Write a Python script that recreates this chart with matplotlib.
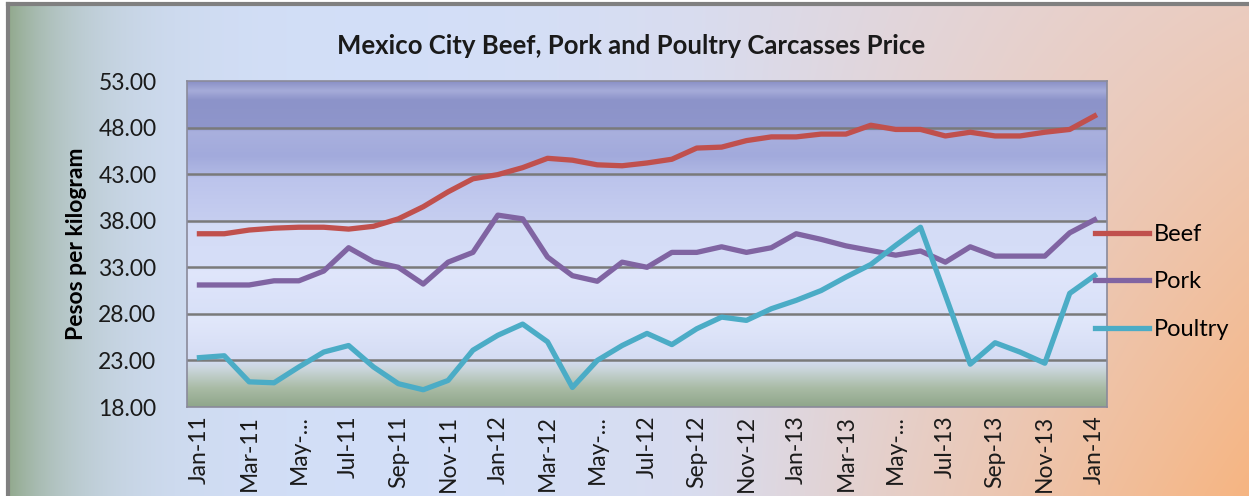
import numpy as np
import matplotlib
matplotlib.use("Agg")
import matplotlib.pyplot as plt
from matplotlib.colors import to_rgb

plt.rcParams['font.family'] = ['Lato', 'DejaVu Sans']

# Monthly prices, Jan-11 .. Jan-14 (pesos per kg)
months = ["Jan-11", "Feb-11", "Mar-11", "Apr-11", "May-11", "Jun-11", "Jul-11", "Aug-11",
          "Sep-11", "Oct-11", "Nov-11", "Dec-11", "Jan-12", "Feb-12", "Mar-12", "Apr-12",
          "May-12", "Jun-12", "Jul-12", "Aug-12", "Sep-12", "Oct-12", "Nov-12", "Dec-12",
          "Jan-13", "Feb-13", "Mar-13", "Apr-13", "May-13", "Jun-13", "Jul-13", "Aug-13",
          "Sep-13", "Oct-13", "Nov-13", "Dec-13", "Jan-14"]
beef = [36.6, 36.6, 37.0, 37.2, 37.3, 37.3, 37.1, 37.4, 38.2, 39.5, 41.1, 42.5, 42.95,
        43.7, 44.7, 44.5, 44.0, 43.9, 44.2, 44.6, 45.8, 45.9, 46.6, 47.0, 47.0, 47.3,
        47.3, 48.25, 47.8, 47.8, 47.1, 47.5, 47.1, 47.1, 47.5, 47.8, 49.25]
pork = [31.1, 31.1, 31.1, 31.55, 31.55, 32.6, 35.1, 33.6, 33.0, 31.2, 33.55, 34.6, 38.6,
        38.2, 34.1, 32.1, 31.5, 33.55, 33.0, 34.6, 34.6, 35.2, 34.6, 35.1, 36.6, 36.0,
        35.3, 34.8, 34.3, 34.75, 33.55, 35.2, 34.2, 34.2, 34.2, 36.7, 38.1]
poultry = [23.3, 23.5, 20.7, 20.6, 22.3, 23.9, 24.6, 22.3, 20.5, 19.85, 20.85, 24.1, 25.7,
           26.9, 25.0, 20.1, 23.0, 24.6, 25.9, 24.7, 26.4, 27.65, 27.3, 28.55, 29.45, 30.5,
           31.95, 33.3, 35.35, 37.3, 30.0, 22.6, 24.9, 23.9, 22.7, 30.2, 32.1]

y_ticks = [18, 23, 28, 33, 38, 43, 48, 53]

W, H = 1249, 496
fig = plt.figure(figsize=(W / 100, H / 100), dpi=100)

# Chart background (soft gradient, green edge at left, orange at bottom right)
bg = fig.add_axes([8 / W, 0, 1 - 8 / W, (H - 4) / H])
gx = np.linspace(0, 1, 300)
gy = np.linspace(0, 1, 120)
u, v = np.meshgrid(gx, gy)
blue = np.array(to_rgb("#d3dff8"))
pink = np.array(to_rgb("#e6d6da"))
orange = np.array(to_rgb("#f6b582"))
green = np.array(to_rgb("#93aa8f"))
t = np.clip((u - 0.3) / 0.7, 0, 1)
t = t * t * (3 - 2 * t)
img = blue * (1 - t[..., None]) + pink * t[..., None]
wo = np.clip((u - 0.55) / 0.45, 0, 1) ** 1.2 * (0.3 + 0.7 * v)
img = img * (1 - wo[..., None]) + orange * wo[..., None]
wg = np.exp(-(u * (W - 8)) / 70.0)
img = img * (1 - wg[..., None]) + green * wg[..., None]
bg.imshow(img, aspect="auto", extent=[0, 1, 0, 1], origin="upper", interpolation="bilinear")
bg.set_xlim(0, 1)
bg.set_ylim(0, 1)
bg.set_xticks([])
bg.set_yticks([])
for s in ["right", "bottom"]:
    bg.spines[s].set_visible(False)
for s in ["left", "top"]:
    bg.spines[s].set_color("#808080")
    bg.spines[s].set_linewidth(3)

# Plot area
ax = fig.add_axes([187 / W, 1 - 407 / H, 920 / W, 326 / H])
x = np.arange(len(months))

stops = [(18, "#8fa68a"), (20, "#a9bba5"), (22, "#c9d5da"), (23, "#d4dcf4"),
         (27.6, "#e2e8fb"), (28, "#d8e0f8"), (32.6, "#e0e6fb"), (33, "#d6def8"),
         (37.6, "#d4dcf6"), (38, "#c6cef0"), (42.6, "#bcc4ec"), (43, "#b0b8e4"),
         (45, "#a2aadc"), (47.6, "#a9b0de"), (48, "#8f96cb"), (51, "#8c93c9"),
         (52, "#a6acd9"), (53, "#8a90c6")]
yy = np.linspace(18, 53, 400)
col = np.stack([np.interp(yy, [s[0] for s in stops], [to_rgb(s[1])[k] for s in stops])
                for k in range(3)], axis=-1)
ax.imshow(col[:, None, :], aspect="auto", extent=[-0.5, len(months) - 0.5, 18, 53],
          origin="lower", zorder=0, interpolation="bilinear")

for yv in y_ticks[1:-1]:
    ax.axhline(yv, color="#7a7a7a", lw=1.8, zorder=1)

ax.plot(x, beef, color="#c0504d", lw=3.8, label="Beef", zorder=3)
ax.plot(x, pork, color="#8064a2", lw=3.8, label="Pork", zorder=3)
ax.plot(x, poultry, color="#4bacc6", lw=3.8, label="Poultry", zorder=3)

ax.set_xlim(-0.5, len(months) - 0.5)
ax.set_ylim(18, 53)
ax.set_yticks(y_ticks)
ax.set_yticklabels([f"{v:.2f}" for v in y_ticks], fontsize=16.5, color="#1a1a1a")
xlab = [m if not m.startswith("May") else "May-..." for m in months]
ax.set_xticks(x[::2])
ax.set_xticklabels(xlab[::2], rotation=90, fontsize=16.5, color="#1a1a1a")
ax.tick_params(length=0)
ax.tick_params(axis="x", pad=6)
ax.tick_params(axis="y", pad=22)
for s in ax.spines.values():
    s.set_color("#8a8a9a")
    s.set_linewidth(1.2)

ax.set_ylabel("Pesos per kilogram", fontsize=16.5, fontweight="bold", labelpad=8)
fig.text(631 / W, 1 - 46 / H, "Mexico City Beef, Pork and Poultry Carcasses Price",
         ha="center", va="center", fontsize=18.5, fontweight="bold", color="#1a1a1a")

ax.legend(loc="center left", bbox_to_anchor=((1095 - 187) / 920, (407 - 282) / 326),
          frameon=False, fontsize=17, handlelength=2.3, handletextpad=0.2,
          labelspacing=1.12, borderaxespad=0, borderpad=0)

fig.savefig("out.png", dpi=100)
